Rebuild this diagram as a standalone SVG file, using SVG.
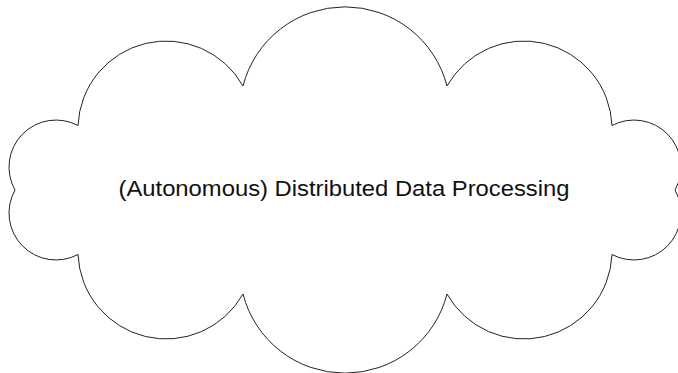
<svg xmlns="http://www.w3.org/2000/svg" width="678" height="373" viewBox="0 0 678 373">
<style>
.cloud{fill:#ffffff;stroke:#222222;stroke-width:1;stroke-linejoin:miter}
.lbl{font-family:"Liberation Sans","DejaVu Sans",sans-serif;font-size:22px;fill:#111111}
</style>
<rect width="678" height="373" fill="#ffffff"/>
<g id="cloud">
<path class="cloud" d="M78,125.5 A88.2,88.2 0 0 1 243,86 A105.3,105.3 0 0 1 447,86 A88.2,88.2 0 0 1 612,125.5 A47,47 0 0 1 675,190 A47,47 0 0 1 612,254.5 A88.2,88.2 0 0 1 447,294 A105.3,105.3 0 0 1 243,294 A88.2,88.2 0 0 1 78,254.5 A47,47 0 0 1 15,190 A47,47 0 0 1 78,125.5 Z"/>
<text class="lbl" x="344" y="196" text-anchor="middle" textLength="451" lengthAdjust="spacingAndGlyphs">(Autonomous) Distributed Data Processing</text>
</g>
</svg>
